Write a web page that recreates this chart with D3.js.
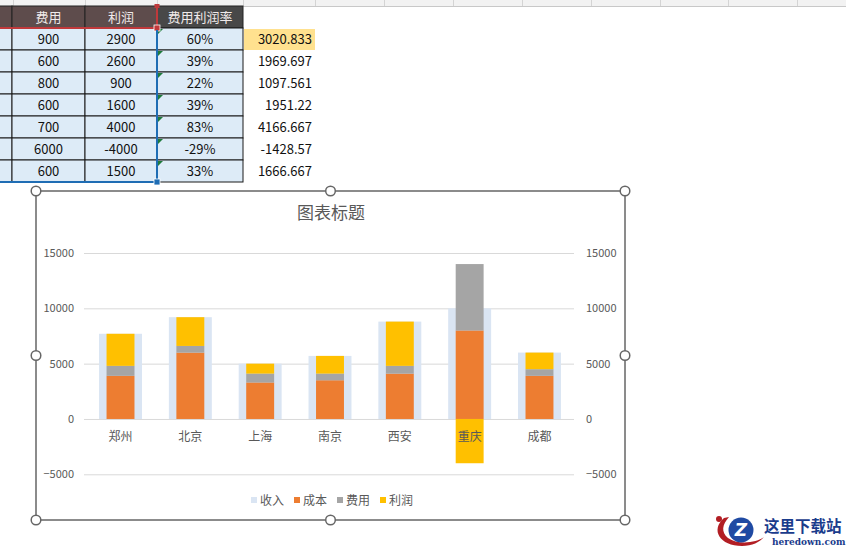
<!DOCTYPE html>
<html><head><meta charset="utf-8">
<script src="https://cdn.jsdelivr.net/npm/d3@7"></script>
<style>body{margin:0;background:#fff;}svg{display:block;}</style>
</head><body>
<svg id="c" width="846" height="552"></svg>
<script>
// ---- data ----
const categories = ["郑州","北京","上海","南京","西安","重庆","成都"];
const revenue = [7700, 9200, 5000, 5700, 8800, 10000, 6000];
const cost    = [3900, 6000, 3300, 3500, 4100, 8000, 3900];
const fee     = [900, 600, 800, 600, 700, 6000, 600];
const profit  = [2900, 2600, 900, 1600, 4000, -4000, 1500];
const ratioLabels = ["60%","39%","22%","39%","83%","-29%","33%"];
const extraValues = ["3020.833","1969.697","1097.561","1951.22","4166.667","-1428.57","1666.667"];
const tableHeaders = ["费用","利润","费用利润率"];
const yTicks = [-5000, 0, 5000, 10000, 15000];
const seriesNames = ["收入","成本","费用","利润"];
const seriesColors = ["#dae5f3","#ed7d31","#a5a5a5","#ffc000"];

const svg = d3.select("#c");
const FONT = "'Noto Sans CJK SC','Microsoft YaHei',sans-serif";

// ---- spreadsheet ----
const colX = [-2, 12, 85, 157, 243, 316];
const rowY0 = 6, headH = 22, rowH = 22;
svg.append("rect").attr("x",0).attr("y",0).attr("width",846).attr("height",6).attr("fill","#f2f2f2");
[13,85,157,243,315,384,453,522,591,660,728,797].forEach(x=>{
  svg.append("line").attr("x1",x+0.5).attr("x2",x+0.5).attr("y1",0).attr("y2",6).attr("stroke","#d4d4d4");
});
svg.append("line").attr("x1",0).attr("x2",846).attr("y1",6.5).attr("y2",6.5).attr("stroke","#c8c8c8");

const tbl = svg.append("g");
const headBg = ["#5e4c4c","#5e4c4c","#5e4c4c","#484848"];
for (let c=0;c<4;c++){
  tbl.append("rect").attr("x",colX[c]).attr("y",rowY0).attr("width",colX[c+1]-colX[c]).attr("height",headH)
    .attr("fill",headBg[c]).attr("stroke","#222").attr("stroke-width",1);
}
tableHeaders.forEach((h,i)=>{
  tbl.append("text").attr("x",(colX[i+1]+colX[i+2])/2).attr("y",rowY0+headH/2+5)
    .attr("text-anchor","middle").attr("font-family",FONT).attr("font-size",13).attr("fill","#f0eaea").text(h);
});
categories.forEach((cat,r)=>{
  const y = rowY0+headH+r*rowH;
  for (let c=0;c<4;c++){
    tbl.append("rect").attr("x",colX[c]).attr("y",y).attr("width",colX[c+1]-colX[c]).attr("height",rowH)
      .attr("fill","#ddebf7").attr("stroke","#1a1a1a").attr("stroke-width",1);
  }
  const vals = [fee[r], profit[r], ratioLabels[r]];
  vals.forEach((v,i)=>{
    tbl.append("text").attr("x",(colX[i+1]+colX[i+2])/2).attr("y",y+rowH/2+5)
      .attr("text-anchor","middle").attr("font-family",FONT).attr("font-size",13).attr("fill","#111").text(v);
  });
  tbl.append("path").attr("d",`M${colX[3]+1},${y+1}h5l-5,5z`).attr("fill","#1e7b3c");
  if (r===0){
    tbl.append("rect").attr("x",244).attr("y",y+1).attr("width",71).attr("height",rowH-1).attr("fill","#ffe18f");
  }
  tbl.append("text").attr("x",312).attr("y",y+rowH/2+5).attr("text-anchor","end")
    .attr("font-family",FONT).attr("font-size",13).attr("fill","#111").text(extraValues[r]);
});
const tableBottom = rowY0+headH+categories.length*rowH;
tbl.append("line").attr("x1",0).attr("x2",157).attr("y1",28).attr("y2",28).attr("stroke","#c0393b").attr("stroke-width",2);
tbl.append("line").attr("x1",157).attr("x2",157).attr("y1",6).attr("y2",28).attr("stroke","#c0393b").attr("stroke-width",2);
tbl.append("rect").attr("x",154).attr("y",25).attr("width",6).attr("height",6).attr("fill","#c0393b").attr("stroke","#fff").attr("stroke-width",0.8);
tbl.append("rect").attr("x",154.5).attr("y",4).attr("width",5).attr("height",4).attr("fill","#c0393b");
tbl.append("line").attr("x1",157).attr("x2",157).attr("y1",30).attr("y2",tableBottom).attr("stroke","#1f6db4").attr("stroke-width",2);
tbl.append("line").attr("x1",0).attr("x2",157).attr("y1",tableBottom).attr("y2",tableBottom).attr("stroke","#1f6db4").attr("stroke-width",2);
tbl.append("rect").attr("x",154).attr("y",tableBottom-3).attr("width",6).attr("height",6).attr("fill","#1f6db4").attr("stroke","#fff").attr("stroke-width",0.8);

// ---- chart ----
const cx0=36, cy0=191, cx1=625, cy1=520;
svg.append("rect").attr("x",cx0).attr("y",cy0).attr("width",cx1-cx0).attr("height",cy1-cy0)
  .attr("fill","#fff").attr("stroke","#666").attr("stroke-width",1.5);

const x = d3.scaleBand().domain(categories).range([85.6,574.4]);
const y = d3.scaleLinear().domain([-5000,15000]).range([474.3,253]);

const g = svg.append("g");
g.append("g").attr("transform","translate(84,0)")
  .call(d3.axisRight(y).tickValues(yTicks).tickSize(490).tickFormat(""))
  .call(a=>{a.select(".domain").remove(); a.selectAll("line").attr("stroke","#d9d9d9");});
g.append("g").attr("transform","translate(78,0)")
  .call(d3.axisLeft(y).tickValues(yTicks).tickSize(0).tickPadding(4).tickFormat(d3.format("d")))
  .call(a=>{a.select(".domain").remove(); a.selectAll("text").attr("font-family",FONT).attr("font-size",11).attr("fill","#595959");});
g.append("g").attr("transform","translate(582,0)")
  .call(d3.axisRight(y).tickValues(yTicks).tickSize(0).tickPadding(4).tickFormat(d3.format("d")))
  .call(a=>{a.select(".domain").remove(); a.selectAll("text").attr("font-family",FONT).attr("font-size",11).attr("fill","#595959");});

const wBg = x.bandwidth()*0.615, wFg = x.bandwidth()*0.4;
g.selectAll(".rev").data(categories).join("rect")
  .attr("x",d=>x(d)+(x.bandwidth()-wBg)/2).attr("width",wBg)
  .attr("y",(d,i)=>y(revenue[i])).attr("height",(d,i)=>y(0)-y(revenue[i]))
  .attr("fill",seriesColors[0]);

const stackData = categories.map((c,i)=>({cat:c, vals:[cost[i],fee[i],profit[i]]}));
stackData.forEach(d=>{
  let pos=0, neg=0;
  d.vals.forEach((v,k)=>{
    let a,b;
    if (v>=0){a=pos;b=pos+v;pos=b;} else {a=neg;b=neg+v;neg=b;}
    g.append("rect").attr("x",x(d.cat)+(x.bandwidth()-wFg)/2).attr("width",wFg)
      .attr("y",y(Math.max(a,b))).attr("height",Math.abs(y(a)-y(b)))
      .attr("fill",seriesColors[k+1]);
  });
});

g.selectAll(".cl").data(categories).join("text")
  .attr("x",d=>x(d)+x.bandwidth()/2).attr("y",441).attr("text-anchor","middle")
  .attr("font-family",FONT).attr("font-size",12).attr("fill","#595959").text(d=>d);

svg.append("text").attr("x",331).attr("y",219).attr("text-anchor","middle")
  .attr("font-family",FONT).attr("font-size",17).attr("fill","#595959").text("图表标题");

const legX = [251, 294, 337, 380];
seriesNames.forEach((n,i)=>{
  svg.append("rect").attr("x",legX[i]).attr("y",497).attr("width",6).attr("height",6).attr("fill",seriesColors[i]);
  svg.append("text").attr("x",legX[i]+9).attr("y",504.5).attr("font-family",FONT).attr("font-size",12)
    .attr("fill","#595959").text(n);
});

[[cx0,cy0],[330.5,cy0],[cx1,cy0],[cx0,355.5],[cx1,355.5],[cx0,cy1],[330.5,cy1],[cx1,cy1]].forEach(p=>{
  svg.append("circle").attr("cx",p[0]).attr("cy",p[1]).attr("r",4.8).attr("fill","#fff").attr("stroke","#666").attr("stroke-width",1.5);
});

// watermark
const wm = svg.append("g");
wm.append("path").attr("d","M724,518 C710,530 720,546 742,546 C752,546 760,542 764,537 C756,543 738,545 728,538 C721,532 722,525 729,517 Z").attr("fill","#b21e24");
wm.append("circle").attr("cx",719).attr("cy",519).attr("r",3).attr("fill","#b21e24");
wm.append("circle").attr("cx",741).attr("cy",530).attr("r",12.5).attr("fill","#1f4aa3");
wm.append("text").attr("x",741).attr("y",536).attr("text-anchor","middle").attr("font-family","DejaVu Sans")
  .attr("font-weight","bold").attr("font-style","italic").attr("font-size",17).attr("fill","#fff").text("Z");
wm.append("text").attr("x",764).attr("y",532).attr("font-family",FONT).attr("font-weight","bold")
  .attr("font-size",15.5).attr("fill","#1a3c8c").text("这里下载站");
wm.append("text").attr("x",772).attr("y",545).attr("font-family","'DejaVu Serif',serif").attr("font-weight","bold")
  .attr("font-size",9).attr("fill","#1a3c8c").text("heredown.com");
</script>
</body></html>
